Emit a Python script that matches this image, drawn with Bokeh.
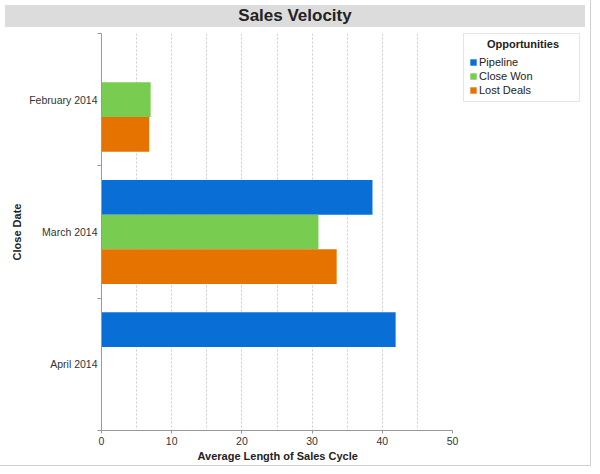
from bokeh.plotting import figure
from bokeh.models import (Range1d, FixedTicker, Legend, LegendItem, Div, ColumnDataSource, Label, Title)
from bokeh.layouts import column
from bokeh.embed import file_html
from bokeh.resources import INLINE

categories = ["February 2014", "March 2014", "April 2014"]
series_names = ["Pipeline", "Close Won", "Lost Deals"]
pipeline = [float("nan"), 38.6, 41.9]
close_won = [7.0, 30.9, float("nan")]
lost_deals = [6.8, 33.5, float("nan")]
colors = ["#0a6ed7", "#78cd50", "#e67200"]
x_ticks = [0, 10, 20, 30, 40, 50]
grid_ticks = [5, 10, 15, 20, 25, 30, 35, 40, 45]

FONT = "Liberation Sans"

W, H = 580, 433
BL, BR, BT, BB = 101, 0, 1, 35
frame_w = W - BL - BR
frame_h = H - BT - BB
px_per_unit = 351 / 50.0

p = figure(width=W, height=H, x_range=Range1d(0, frame_w / px_per_unit), y_range=Range1d(6, 0),
           output_backend="svg", toolbar_location=None, title=None,
           min_border_left=BL, min_border_right=BR, min_border_top=BT, min_border_bottom=BB)
p.outline_line_color = None
p.background_fill_color = "white"
p.border_fill_color = "white"

centers = [2 * i + 1 for i in range(len(categories))]
h = 0.525
offsets = [-h, 0.0, h]
renderers = []
for vals, off, col in zip([pipeline, close_won, lost_deals], offsets, colors):
    src = ColumnDataSource(dict(y=[c + off for c in centers], right=vals))
    r = p.hbar(y="y", left=0, right="right", height=h, source=src,
               fill_color=col, line_color=None)
    renderers.append(r)

# x axis
xa = p.xaxis[0]
xa.ticker = FixedTicker(ticks=x_ticks, minor_ticks=[])
xa.bounds = (0, 50)
xa.axis_line_color = "#999999"
xa.major_tick_line_color = "#999999"
xa.major_tick_out = 3
xa.major_tick_in = 0
xa.major_label_standoff = 3

# x axis title, centred under the 0-50 axis (not the whole frame)
x_title = Title(text="Average Length of Sales Cycle", align="left", offset=96, standoff=0,
                text_font=FONT, text_font_size="11px", text_font_style="bold",
                text_color="#222222")
p.add_layout(x_title, "below")

# y axis
ya = p.yaxis[0]
ya.ticker = FixedTicker(ticks=centers, minor_ticks=[0, 2, 4, 6])
ya.major_label_overrides = {c: cat for c, cat in zip(centers, categories)}
ya.axis_label = "Close Date"
ya.axis_line_color = "#999999"
ya.major_tick_line_color = None
ya.major_tick_out = 0
ya.major_tick_in = 0
ya.minor_tick_line_color = "#999999"
ya.minor_tick_out = 4
ya.minor_tick_in = 0
ya.major_label_standoff = 0
ya.axis_label_standoff = 3
ya.axis_label_text_font = FONT
ya.axis_label_text_font_size = "11px"
ya.axis_label_text_font_style = "bold"
ya.axis_label_text_color = "#222222"

for ax in (xa, ya):
    ax.major_label_text_font = FONT
    ax.major_label_text_font_size = "10.5px"
    ax.major_label_text_color = "#333333"

p.xgrid.ticker = FixedTicker(ticks=grid_ticks)
p.xgrid.grid_line_color = "#cccccc"
p.xgrid.grid_line_dash = "2 2"
p.ygrid.grid_line_color = None

legend = Legend(items=[LegendItem(label=n, renderers=[r]) for n, r in zip(series_names, renderers)],
                title="\u00a0", location="top_right", margin=0)
legend.title_text_font = FONT
legend.title_text_font_size = "11px"
legend.title_text_font_style = "bold"
legend.title_standoff = 4
legend.label_text_font = FONT
legend.label_text_font_size = "11px"
legend.label_text_color = "#222222"
legend.label_width = 95
legend.label_height = 13
legend.label_standoff = 2
legend.glyph_width = 8
legend.glyph_height = 8
legend.spacing = 1
legend.padding = 5
legend.border_line_color = "#cccccc"
legend.background_fill_alpha = 0
p.add_layout(legend, "center")

legend_title = Label(x=frame_w - 57.5, y=frame_h - 10.5, x_units="screen", y_units="screen",
                     text="Opportunities", text_align="center", text_baseline="middle",
                     text_font=FONT, text_font_size="11px", text_font_style="bold",
                     text_color="#222222", level="overlay")
p.add_layout(legend_title)

title = Div(text="Sales Velocity", width=W, height=22,
            styles={"background-color": "#dcdcdc", "text-align": "center",
                    "font-weight": "bold", "font-size": "17px", "font-family": FONT,
                    "line-height": "22px", "color": "#222222"})

layout = column(title, p, spacing=0, styles={"outline": "1px solid #cfcfcf"})

html = file_html(layout, INLINE)
html = html.replace("<body>", '<body style="background-color:#f4f4f4">', 1)
open("out.html", "w").write(html)
